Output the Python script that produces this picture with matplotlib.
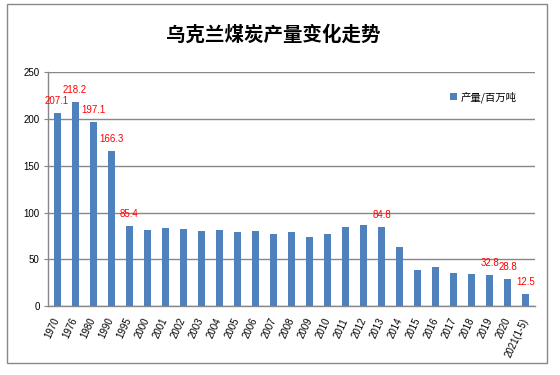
import matplotlib
matplotlib.use("Agg")
import matplotlib.pyplot as plt
from matplotlib.patches import Patch, Rectangle

categories = ["1970", "1976", "1980", "1990", "1995", "2000", "2001", "2002", "2003",
              "2004", "2005", "2006", "2007", "2008", "2009", "2010", "2011", "2012",
              "2013", "2014", "2015", "2016", "2017", "2018", "2019", "2020", "2021(1-5)"]
values = [207.1, 218.2, 197.1, 166.3, 85.4, 81.6, 83.7, 82.7, 80.6,
          81.6, 79.5, 80.6, 77.4, 79.5, 74.2, 77.4, 84.9, 86.9,
          84.8, 63.6, 38.1, 41.3, 34.9, 33.9, 32.8, 28.8, 12.5]
labeled = ["1970", "1976", "1980", "1990", "1995", "2013", "2019", "2020", "2021(1-5)"]
title = "乌克兰煤炭产量变化走势"
legend_label = "产量/百万吨"
yticks = [0, 50, 100, 150, 200, 250]

BLUE = "#4F81BD"
GRID = "#878787"
cjk = ["Noto Sans CJK SC", "DejaVu Sans"]

fig = plt.figure(figsize=(5.6, 3.75), dpi=100)
fig.patches.append(Rectangle((7 / 560, 1 - 363 / 375), 540 / 560, 359 / 375,
                             transform=fig.transFigure, fill=False,
                             edgecolor="#898989", linewidth=1.0))
ax = fig.add_axes([48 / 560, 1 - 306 / 375, 487 / 560, 233.5 / 375])

x = list(range(len(categories)))
ax.bar(x, values, width=0.39, color=BLUE, zorder=3)
ax.set_xlim(-0.5, len(categories) - 0.5)
ax.set_ylim(0, 250)
ax.set_yticks(yticks)
ax.yaxis.grid(True, color=GRID, linewidth=1.0, zorder=0)
for s in ["top", "right"]:
    ax.spines[s].set_visible(False)
for s in ["left", "bottom"]:
    ax.spines[s].set_color(GRID)
    ax.spines[s].set_linewidth(1.0)
ax.tick_params(axis="y", length=3, color=GRID, labelsize=7, pad=3)
ax.tick_params(axis="x", length=0, pad=9)
for lab in ax.get_yticklabels():
    lab.set_fontfamily("Liberation Sans")
ax.set_xticks(x)
ax.set_xticklabels(categories, rotation=65, ha="right", va="center",
                   rotation_mode="anchor", fontsize=7, fontfamily="Liberation Sans")

for i, (c, v) in enumerate(zip(categories, values)):
    if c in labeled:
        ax.annotate(f"{v:.1f}", (i, v), xytext=(0, 5), textcoords="offset points",
                    ha="center", va="bottom", color="red", fontsize=7,
                    fontfamily="Liberation Sans", zorder=4)

fig.text(273 / 560, 1 - 35 / 375, title, ha="center", va="center",
         fontsize=14, fontweight="bold", family=cjk)

ax.legend(handles=[Patch(facecolor=BLUE, label=legend_label)],
          loc="center left", bbox_to_anchor=(0.826, 0.895), frameon=False,
          handlelength=0.6, handleheight=0.6, handletextpad=0.4,
          borderaxespad=0, borderpad=0, prop={"family": cjk, "size": 7.5})

fig.savefig("out.png", dpi=100)
